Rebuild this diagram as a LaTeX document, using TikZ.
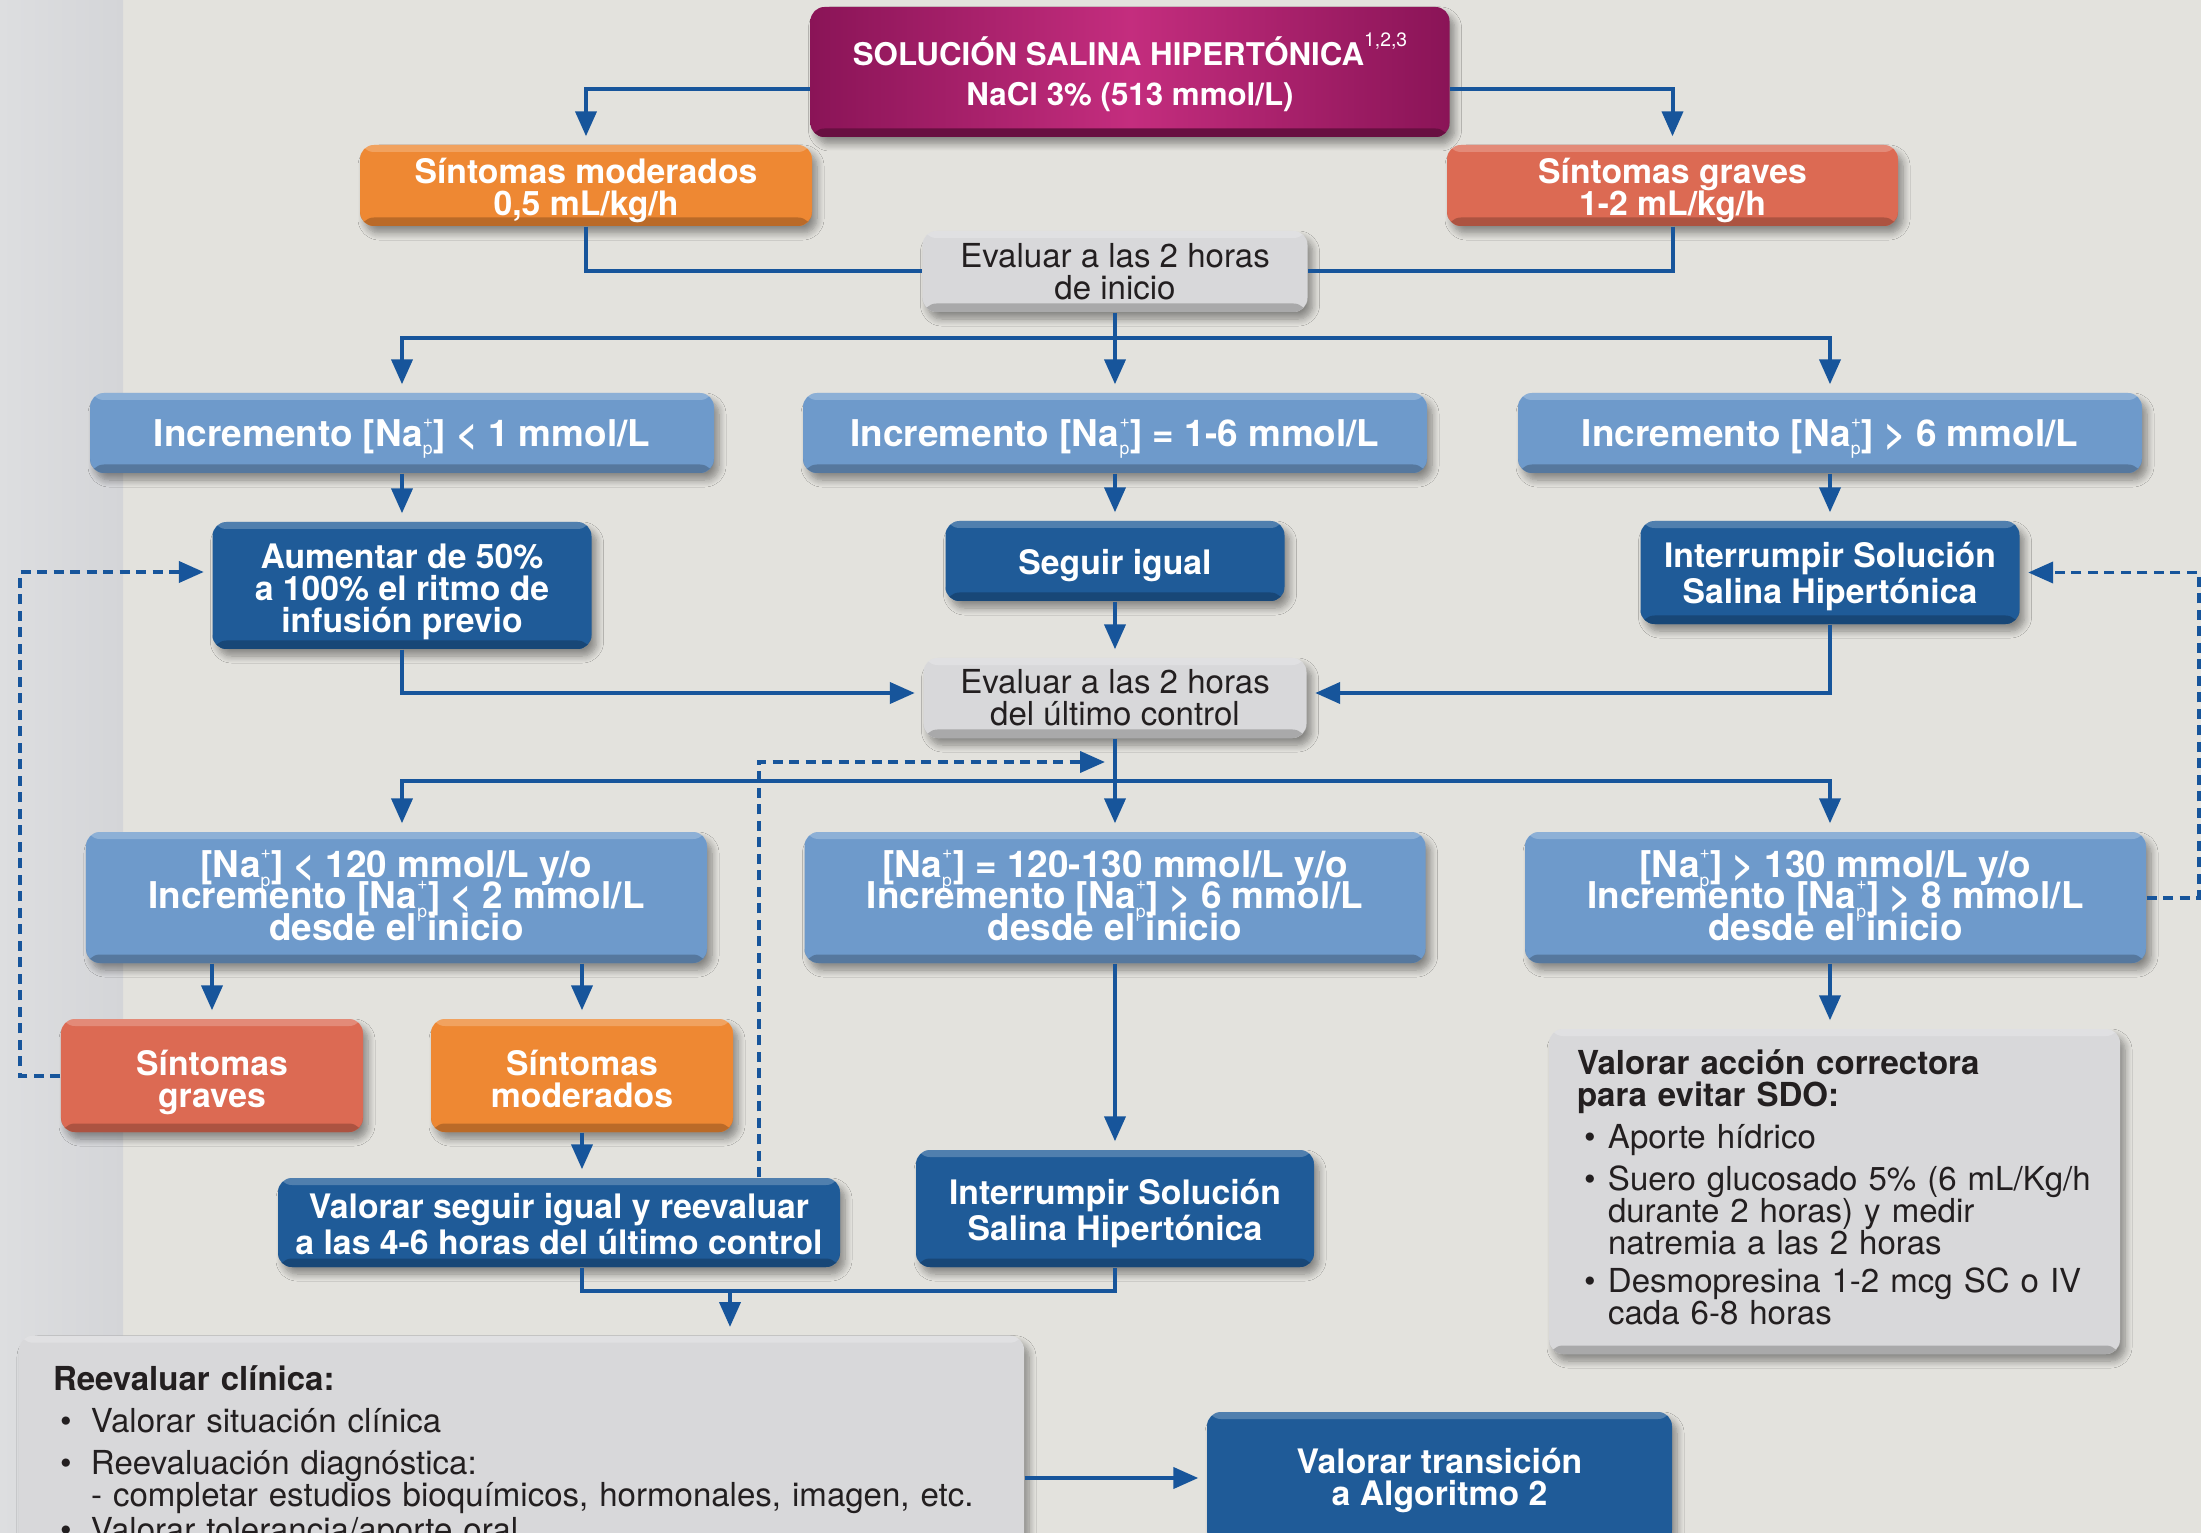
\documentclass[tikz,border=0pt]{standalone}
\usepackage{fontspec}
\setmainfont{TeX Gyre Heros}
\usetikzlibrary{arrows.meta,shadows.blur,calc}
\definecolor{bg}{HTML}{E3E2DD}
\definecolor{stripL}{HTML}{DDDEE0}
\definecolor{stripR}{HTML}{D4D5D8}
\definecolor{lc}{HTML}{17559B}
\definecolor{magd}{HTML}{8A1457}
\definecolor{magl}{HTML}{C42D7E}
\definecolor{cor}{HTML}{EE8833}
\definecolor{csal}{HTML}{DC6A53}
\definecolor{clb}{HTML}{6E9ACB}
\definecolor{cdb}{HTML}{1F5B98}
\definecolor{cgr}{HTML}{D8D8DA}
\definecolor{ctx}{HTML}{231F20}
\newcommand\Nap{Na\smash{\makebox[0pt][l]{\raisebox{0.95ex}{\fontsize{5}{5}\selectfont\mdseries +}}\raisebox{-0.45ex}{\fontsize{5}{5}\selectfont\mdseries p}}\hspace{0.3pt}}
\newcommand\refsup[1]{\raisebox{1.15ex}{\fontsize{5.5}{5}\selectfont\mdseries #1}}
\newcommand\fb{\fontsize{9.6}{9.1}\selectfont\bfseries}
\newcommand\fn{\fontsize{10.5}{9.0}\selectfont\bfseries\lineskiplimit=-20pt\relax}
\newcommand\fg{\fontsize{9.4}{9.1}\selectfont}
\newcommand\bul[3]{\par\vspace{#3}\hangindent=#1\hangafter=1\noindent\makebox[#1][l]{\hspace{0.07cm}\textbullet}#2\par}
\tikzset{
  box/.style={rounded corners=0.14cm, inner sep=0pt, align=center, text=white, font=\fb,
    blur shadow={shadow xshift=0.05cm, shadow yshift=-0.07cm, shadow blur radius=0.07cm, shadow blur steps=8, shadow opacity=40}},
  vfix/.style={execute at begin node={\rule{0pt}{#1}}, execute at end node={\rule[-2.6pt]{0pt}{0pt}}},
  fillbox/.style={box, fill=#1,
    path picture={
      \fill[#1!78!black] ([yshift=0.085cm]path picture bounding box.south west) rectangle (path picture bounding box.south east);
      \fill[white,opacity=0.22] (path picture bounding box.north west) rectangle ([yshift=-0.07cm]path picture bounding box.north east);
    }},
  cbox/.style={fillbox=#1, vfix=10pt},
  graybox/.style={fillbox=cgr, text=ctx, font=\fg},
  ln/.style={draw=lc, line width=0.04cm},
  arr/.style={ln, -{Triangle[length=0.25cm,width=0.21cm]}, shorten >=0.08cm},
  darr/.style={ln, dash pattern=on 0.10cm off 0.065cm, -{Triangle[length=0.25cm,width=0.21cm]}, shorten >=0.08cm},
}
\begin{document}
\begin{tikzpicture}[x=1cm,y=1cm]
\useasboundingbox (0,0) rectangle (22.01,-15.33);
\clip (0,0) rectangle (22.01,-15.33);
\fill[bg] (0,0) rectangle (22.01,-15.33);
\shade[left color=stripL, right color=stripR] (0,0) rectangle (1.23,-15.33);

% row 0
\node[box, left color=magd, right color=magd, middle color=magl, minimum width=6.39cm, minimum height=1.30cm, font=\fontsize{8.9}{11.3}\selectfont\bfseries,
  path picture={\fill[magd!75!black] ([yshift=0.085cm]path picture bounding box.south west) rectangle (path picture bounding box.south east);}]
  (title) at (11.30,-0.72) {SOLUCIÓN SALINA HIPERTÓNICA\refsup{1,2,3}\\NaCl 3\% (513 mmol/L)};
\node[cbox=cor, vfix=19.9pt, minimum width=4.52cm, minimum height=0.81cm] (smod) at (5.86,-1.855) {Síntomas moderados\\0,5 mL/kg/h};
\node[cbox=csal, vfix=19.9pt, minimum width=4.51cm, minimum height=0.81cm] (sgrav) at (16.725,-1.855) {Síntomas graves\\1-2 mL/kg/h};
\node[graybox, minimum width=3.85cm, minimum height=0.81cm] (eval1) at (11.15,-2.715) {Evaluar a las 2 horas\\de inicio};

% row 1
\node[cbox=clb, font=\fn, minimum width=6.24cm, minimum height=0.80cm] (inc1) at (4.02,-4.33) {Incremento [\Nap] < 1 mmol/L};
\node[cbox=clb, font=\fn, minimum width=6.24cm, minimum height=0.80cm] (inc2) at (11.15,-4.33) {Incremento [\Nap] = 1-6 mmol/L};
\node[cbox=clb, font=\fn, minimum width=6.24cm, minimum height=0.80cm] (inc3) at (18.30,-4.33) {Incremento [\Nap] > 6 mmol/L};

% row 2
\node[cbox=cdb, vfix=29.6pt, minimum width=3.79cm, minimum height=1.27cm] (aum) at (4.02,-5.855) {Aumentar de 50\%\\a 100\% el ritmo de\\infusión previo};
\node[cbox=cdb, minimum width=3.39cm, minimum height=0.80cm] (seg) at (11.15,-5.61) {Seguir igual};
\node[cbox=cdb, vfix=20.2pt, minimum width=3.79cm, minimum height=1.03cm] (int1) at (18.30,-5.725) {Interrumpir Solución\\Salina Hipertónica};
\node[graybox, minimum width=3.83cm, minimum height=0.80cm] (eval2) at (11.15,-6.98) {Evaluar a las 2 horas\\del último control};

% row 3
\node[cbox=clb, vfix=27pt, font=\fn, minimum width=6.21cm, minimum height=1.31cm] (cA) at (3.965,-8.975) {[\Nap] < 120 mmol/L y/o\\Incremento [\Nap] < 2 mmol/L\\desde el inicio};
\node[cbox=clb, vfix=27pt, font=\fn, minimum width=6.21cm, minimum height=1.31cm] (cB) at (11.15,-8.975) {[\Nap] = 120-130 mmol/L y/o\\Incremento [\Nap] > 6 mmol/L\\desde el inicio};
\node[cbox=clb, vfix=27pt, font=\fn, minimum width=6.21cm, minimum height=1.31cm] (cC) at (18.355,-8.975) {[\Nap] > 130 mmol/L y/o\\Incremento [\Nap] > 8 mmol/L\\desde el inicio};

% row 4
\node[cbox=csal, vfix=20.9pt, minimum width=3.02cm, minimum height=1.13cm] (sg2) at (2.12,-10.755) {Síntomas\\graves};
\node[cbox=cor, vfix=20.9pt, minimum width=3.02cm, minimum height=1.13cm] (sm2) at (5.82,-10.755) {Síntomas\\moderados};
\node[cbox=cdb, vfix=20.9pt, minimum width=5.62cm, minimum height=0.89cm] (valseg) at (5.59,-12.225) {Valorar seguir igual y reevaluar\\a las 4-6 horas del último control};
\node[cbox=cdb, vfix=20.9pt, minimum width=3.98cm, minimum height=1.17cm] (int2) at (11.15,-12.085) {Interrumpir Solución\\Salina Hipertónica};
\node[graybox, align=left, text width=5.15cm, inner xsep=0.28cm, minimum height=3.25cm] (corr) at (18.345,-11.915)
  {{\bfseries Valorar acción correctora\newline para evitar SDO:}
   \bul{0.31cm}{Aporte hídrico}{3.1pt}
   \bul{0.31cm}{Suero glucosado 5\% (6 mL/Kg/h\newline durante 2 horas) y medir\newline natremia a las 2 horas}{2.8pt}
   \bul{0.31cm}{Desmopresina 1-2 mcg SC o IV\newline cada 6-8 horas}{1.6pt}
   \vspace*{0.09cm}};

% bottom
\node[graybox, anchor=north, align=left, text width=9.37cm, inner xsep=0.34cm, inner ysep=0.30cm] (reev) at (5.215,-13.35)
  {{\bfseries Reevaluar clínica:}
   \bul{0.38cm}{Valorar situación clínica}{2.8pt}
   \bul{0.38cm}{Reevaluación diagnóstica:\newline - completar estudios bioquímicos, hormonales, imagen, etc.}{2.8pt}
   \bul{0.38cm}{Valorar tolerancia/aporte oral}{0.9pt}
   \vspace{1.2cm}};
\node[cbox=cdb, vfix=18.5pt, minimum width=4.65cm, minimum height=1.32cm] (trans) at (14.395,-14.78) {Valorar transición\\a Algoritmo 2};

% connectors
\draw[arr] ([yshift=-0.17cm]title.west) -| (smod.north);
\draw[arr] ([yshift=-0.17cm]title.east) -| (sgrav.north);
\draw[ln] (smod.south) |- (eval1.west);
\draw[ln] (sgrav.south) |- (eval1.east);
\coordinate (j1) at (11.15,-3.38);
\draw[ln] (eval1.south) -- (j1);
\draw[arr] (j1) -| (inc1.north);
\draw[arr] (j1) -| (inc3.north);
\draw[arr] (j1) -- (inc2.north);
\draw[arr] (inc1.south) -- (aum.north);
\draw[arr] (inc2.south) -- (seg.north);
\draw[arr] (inc3.south) -- (int1.north);
\draw[arr] (seg.south) -- (eval2.north);
\draw[arr] (aum.south) |- ([yshift=0.05cm]eval2.west);
\draw[arr] (int1.south) |- ([yshift=0.05cm]eval2.east);
\coordinate (j2) at (11.15,-7.81);
\draw[ln] (eval2.south) -- (j2);
\draw[arr] (j2) -| (inc1.south |- cA.north);
\draw[arr] (j2) -| (inc3.south |- cC.north);
\draw[arr] (j2) -- (cB.north);
\coordinate (d1) at (7.59,-7.62);
\coordinate (d1t) at (11.05,-7.62);
\draw[darr, shorten >=0pt] (valseg.north -| d1) -- (d1) -- (d1t);
\draw[arr] (cA.south -| sg2.north) -- (sg2.north);
\draw[arr] (cA.south -| sm2.north) -- (sm2.north);
\draw[arr] (sm2.south) -- (sm2.south |- valseg.north);
\coordinate (lx) at (0.20,0);
\draw[darr] (sg2.west) -- (sg2.west -| lx) |- ([yshift=0.135cm]aum.west);
\coordinate (rx) at (21.99,0);
\draw[darr] (cC.east) -- (cC.east -| rx) |- (int1.east);
\draw[arr] (cB.south) -- (int2.north);
\coordinate (j3) at (7.30,-12.91);
\draw[ln] (valseg.south -| sm2.south) |- (int2.south |- j3) -- (int2.south);
\draw[arr] (j3) -- (j3 |- reev.north);
\draw[arr] (reev.east |- trans.west) -- (trans.west);
\draw[arr] (inc3.south |- cC.south) -- (inc3.south |- corr.north);
\end{tikzpicture}
\end{document}
